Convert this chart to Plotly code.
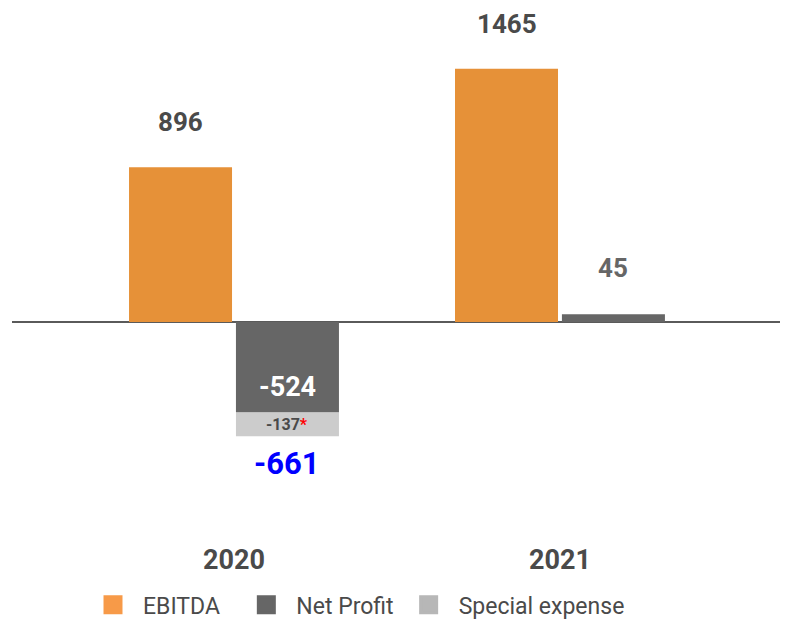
import plotly.graph_objects as go

years = ["2020", "2021"]
ebitda = [896, 1465]
net_profit = [-524, 45]
special_expense = [-137, None]
total_2020 = -661
legend_names = ["EBITDA\u00a0\u00a0", "Net Profit", "Special expense"]

bar_w = 0.316
off_e = -0.322
off_n = 0.006

c_ebitda = "#E69138"
c_net = "#666666"
c_spec = "#CCCCCC"
txt = "#4A4A4A"

fig = go.Figure()
fig.add_trace(go.Bar(x=years, y=ebitda, width=bar_w, offset=off_e, marker_color=c_ebitda,
                     marker_line_width=0, name="EBITDA", showlegend=False))
fig.add_trace(go.Bar(x=years, y=net_profit, width=bar_w, offset=off_n, marker_color=c_net,
                     marker_line_width=0, name="Net Profit", showlegend=False))
fig.add_trace(go.Bar(x=years[:1], y=special_expense[:1], base=[net_profit[0]], width=bar_w, offset=off_n,
                     marker_color=c_spec, marker_line_width=0, name="Special expense", showlegend=False))

# legend-only entries
for nm, col in zip(legend_names, ["#F79A48", "#666666", "#B7B7B7"]):
    fig.add_trace(go.Scatter(x=[None], y=[None], mode="markers", name=nm, showlegend=True,
                             marker=dict(symbol="square", size=16, color=col,
                                         line=dict(color=col, width=3))))

xe = [i + off_e + bar_w / 2 for i in range(len(years))]
xn = [i + off_n + bar_w / 2 for i in range(len(years))]

ann = []
for i, v in enumerate(ebitda):
    ann.append(dict(x=xe[i], y=v, text=f"<b>{v}</b>", yshift=45, showarrow=False,
                    font=dict(size=26, color=txt)))
ann.append(dict(x=xn[1], y=net_profit[1], text=f"<b>{net_profit[1]}</b>", yshift=46, showarrow=False,
                font=dict(size=26, color="#666666")))
ann.append(dict(x=xn[0], y=net_profit[0], text=f"<b>{net_profit[0]}</b>", yshift=25, showarrow=False,
                font=dict(size=27, color="white")))
ann.append(dict(x=xn[0], y=net_profit[0] + special_expense[0] / 2,
                text=f"<b>{special_expense[0]}<span style='color:red'>*</span></b>", showarrow=False,
                font=dict(size=16, color=txt)))
ann.append(dict(x=xn[0], y=total_2020, text=f"<b>{total_2020}</b>", yshift=-27, showarrow=False,
                font=dict(size=31, color="#0000FF")))

fig.update_layout(
    width=788, height=622,
    margin=dict(l=12, r=8, t=11, b=81, autoexpand=False),
    paper_bgcolor="white", plot_bgcolor="white",
    barmode="overlay",
    font=dict(family="Roboto", color=txt),
    xaxis=dict(range=[-0.681, 1.675], showgrid=False, showline=False, ticks="", automargin=False,
               tickfont=dict(size=27, color=txt, weight="bold"), fixedrange=True),
    yaxis=dict(range=[-1268, 1800], showgrid=False, showticklabels=False, zeroline=True,
               automargin=False, zerolinecolor="#5A5A5A", zerolinewidth=1.5, fixedrange=True),
    legend=dict(orientation="h", x=(83 - 12) / 768, xanchor="left", y=-0.08, yanchor="top",
                itemwidth=50, font=dict(size=23, color=txt)),
    annotations=ann,
)

fig.write_html("out.html", config={"displayModeBar": False},
               post_script="document.body.style.margin='0';document.body.style.overflow='hidden';")
